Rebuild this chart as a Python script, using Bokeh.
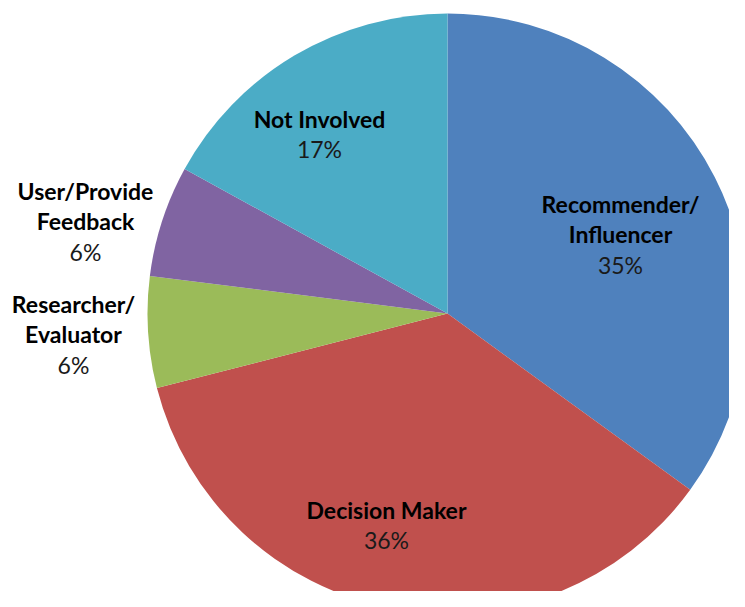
import math
from bokeh.plotting import figure
from bokeh.models import Range1d, ColumnDataSource
from bokeh.core.properties import value
from bokeh.embed import file_html
from bokeh.resources import INLINE

# Data
categories = ["Recommender/\nInfluencer", "Decision Maker", "Researcher/\nEvaluator",
              "User/Provide\nFeedback", "Not Involved"]
shares = [35, 36, 6, 6, 17]
pct_labels = ["35%", "36%", "6%", "6%", "17%"]
colors = ["#4F81BD", "#C0504D", "#9BBB59", "#8064A2", "#4BACC6"]

# label anchor positions (px, centre of first line)
label_pos = [(620, 203), (386, 509), (73, 303), (85, 190), (319, 118)]
line_gap = 30.5

W, H = 729, 591
CX, CY = 447, 313  # pie centre within figure (px)
R = 300

p = figure(width=W, height=H, output_backend="svg", toolbar_location=None,
           x_range=Range1d(-CX, W - CX), y_range=Range1d(-(H - CY), CY),
           min_border=0, background_fill_color="white", border_fill_color="white")
p.axis.visible = False
p.grid.visible = False
p.outline_line_color = None

total = sum(shares)
starts, ends = [], []
cum = 0.0
for s in shares:
    starts.append(math.pi / 2 - 2 * math.pi * cum / total)
    cum += s
    ends.append(math.pi / 2 - 2 * math.pi * cum / total)

src = ColumnDataSource(dict(start=starts, end=ends, color=colors))
p.wedge(x=0, y=0, radius=R, start_angle="start", end_angle="end", direction="clock",
        fill_color="color", line_color=None, source=src)

nx, ny, nt, px_, py_, pt = [], [], [], [], [], []
for cat, pct, (sx, sy) in zip(categories, pct_labels, label_pos):
    lines = cat.split("\n")
    for i, ln in enumerate(lines):
        nx.append(sx - CX)
        ny.append(CY - (sy + i * line_gap))
        nt.append(ln)
    px_.append(sx - CX)
    py_.append(CY - (sy + len(lines) * line_gap))
    pt.append(pct)

p.text(x=nx, y=ny, text=nt, text_font=value("Lato"), text_font_style="bold",
       text_font_size="23px", text_color="#000000", text_align="center",
       text_baseline="middle")
p.text(x=px_, y=py_, text=pt, text_font=value("Lato"), text_font_style="normal",
       text_font_size="23px", text_color="#1a1a1a", text_align="center",
       text_baseline="middle")

open("out.html", "w").write(file_html(p, INLINE))
